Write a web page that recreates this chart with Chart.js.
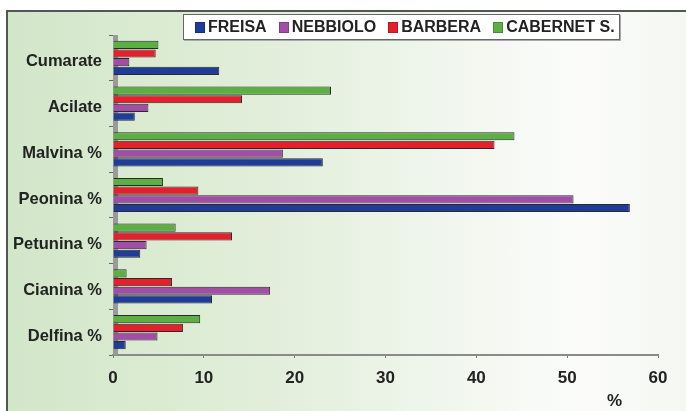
<!DOCTYPE html>
<html>
<head>
<meta charset="utf-8">
<script src="https://cdn.jsdelivr.net/npm/chart.js@4/dist/chart.umd.min.js"></script>
<style>
  html, body { margin: 0; padding: 0; background: #fff; }
  #wrap {
    position: relative; width: 686px; height: 411px; overflow: hidden;
    background: #fff;
  }
  #frame {
    position: absolute; left: 6px; top: 10px; width: 700px; height: 420px;
    border-left: 2px solid #555; border-top: 2px solid #555;
    background: linear-gradient(90deg, #d2e6c9 0%, #d8eacf 15%, #e3efdc 40%, #f0f6ed 62%, #fbfcfa 82%, #f3f6f0 100%);
  }
  #chart { position: absolute; left: 0; top: 0; }
  #legend {
    position: absolute; left: 183px; top: 14px; width: 437px; height: 26px;
    border: 1px solid #666; background: #fff;
    font: bold 16px "Liberation Sans", Arial, sans-serif; color: #222;
    display: flex; align-items: center; padding-left: 11px; box-sizing: border-box;
    box-shadow: 1px 1px 0 #aaa; white-space: nowrap;
  }
  #legend span.item { display: inline-flex; align-items: center; margin-right: 12px; }
  #legend i { display: inline-block; width: 8px; height: 9px; margin-right: 3px; border: 1px solid rgba(0,0,0,0.2); }
  #unit {
    position: absolute; left: 607px; top: 391px;
    font: bold 17px "Liberation Sans", Arial, sans-serif; color: #222;
  }
</style>
</head>
<body>
<div id="wrap">
  <div id="frame"></div>
  <canvas id="chart" width="686" height="411"></canvas>
  <div id="legend"></div>
  <div id="unit">%</div>
</div>
<script>
// ===== DATA =====
const categories = ["Cumarate", "Acilate", "Malvina %", "Peonina %", "Petunina %", "Cianina %", "Delfina %"]
const freisa     = [11.7, 2.4, 23.1, 56.9, 3.0, 10.9, 1.4]
const nebbiolo   = [1.8, 3.9, 18.7, 50.7, 3.7, 17.3, 4.9]
const barbera    = [4.7, 14.2, 42.0, 9.4, 13.1, 6.5, 7.7]
const cabernet   = [5.0, 24.0, 44.2, 5.5, 6.9, 1.5, 9.6]
const xTicks     = [0, 10, 20, 30, 40, 50, 60]

const series = [
  { name: "FREISA",      data: freisa,   color: "#1f3c98" },
  { name: "NEBBIOLO",    data: nebbiolo, color: "#a24ea6" },
  { name: "BARBERA",     data: barbera,  color: "#e3202b" },
  { name: "CABERNET S.", data: cabernet, color: "#5cb043" }
]

// ===== LEGEND =====
document.getElementById("legend").innerHTML = series.map(s =>
  `<span class="item"><i style="background:${s.color}"></i>${s.name}</span>`
).join("")

// ===== 3D WALL =====
const wallPlugin = {
  id: "wall",
  beforeDatasetsDraw(chart) {
    const { ctx, chartArea: a } = chart
    ctx.save()
    ctx.fillStyle = "#9a9a9a"
    ctx.fillRect(a.left, a.top, 5, a.bottom - a.top)
    ctx.restore()
  }
}

// ===== CHART =====
const font = { family: "'Liberation Sans', Arial, sans-serif", weight: "bold" }

new Chart(document.getElementById("chart"), {
  type: "bar",
  data: {
    labels: categories,
    // top bar in each group is Cabernet, so reverse order
    datasets: [...series].reverse().map(s => ({
      label: s.name,
      data: s.data,
      backgroundColor: s.color,
      borderColor: "#2a2a2a",
      borderWidth: 1,
      categoryPercentage: 0.76,
      barPercentage: 0.94
    }))
  },
  options: {
    indexAxis: "y",
    responsive: false,
    animation: false,
    layout: { padding: { top: 35, right: 28, left: 0, bottom: 0 } },
    plugins: { legend: { display: false }, tooltip: { enabled: false } },
    scales: {
      x: {
        min: 0, max: 60,
        afterBuildTicks: s => { s.ticks = xTicks.map(v => ({ value: v })) },
        afterFit: s => { s.height = 411 - 355 },
        border: { color: "#8a8a8a", width: 2 },
        grid: { drawOnChartArea: false, tickLength: 3, color: "#777" },
        ticks: { font: { ...font, size: 17 }, color: "#222", padding: 10, maxRotation: 0 }
      },
      y: {
        afterFit: s => { s.width = 113 },
        border: { color: "#777", width: 1 },
        grid: { drawOnChartArea: false, offset: true, tickLength: 4, color: "#666" },
        ticks: { font: { ...font, size: 16.5 }, color: "#222", padding: 7, labelOffset: 4 }
      }
    }
  },
  plugins: [wallPlugin]
})
</script>
</body>
</html>
